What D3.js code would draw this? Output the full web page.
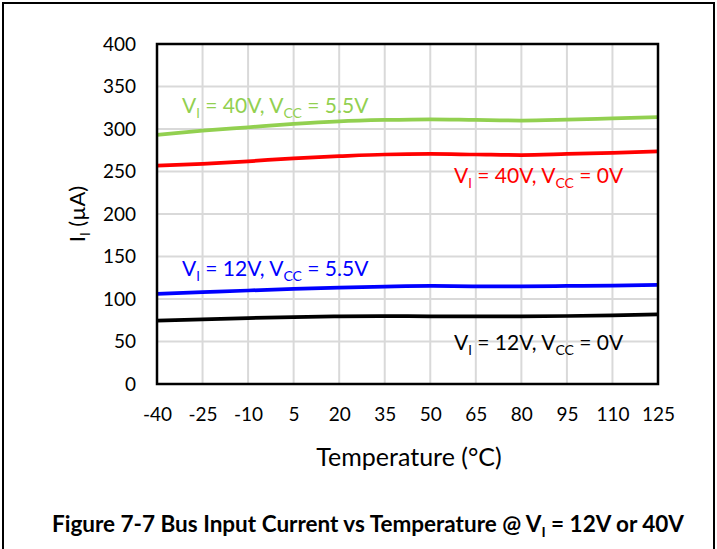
<!DOCTYPE html>
<html><head><meta charset="utf-8">
<script src="https://cdn.jsdelivr.net/npm/d3@7"></script>
<style>body{margin:0;background:#fff}svg{display:block}</style>
</head><body>
<svg id="chart" width="717" height="549"></svg>
<script>
const temps = [-40,-25,-10,5,20,35,50,65,80,95,110,125];
const yTicks = [0,50,100,150,200,250,300,350,400];
const green40_55 = [293,298,302,306,309,310.6,311.4,310.6,310,311,312.5,314];
const red40_0 = [257,259,262,265.5,268,270,270.6,270,269.4,270.6,272,273.7];
const blue12_55 = [106,108,110,111.8,113.3,114.5,115.3,114.9,114.9,115.3,115.7,116.5];
const black12_0 = [74.5,76,77.6,78.8,79.5,80,79.6,79.6,79.6,80,80.8,82];

const series = [
  {vals: green40_55, color: "#92D050", label: ["40V","5.5V"], lx: 182, ly: 113},
  {vals: red40_0, color: "#FF0000", label: ["40V","0V"], lx: 454, ly: 183},
  {vals: blue12_55, color: "#0000FF", label: ["12V","5.5V"], lx: 182, ly: 276},
  {vals: black12_0, color: "#000000", label: ["12V","0V"], lx: 454, ly: 350}
];

const font = "Lato, 'Open Sans', sans-serif";
const svg = d3.select("#chart");
const L = 157, R = 658, T = 44, B = 384;
const x = d3.scaleLinear().domain([-40,125]).range([L,R]);
const y = d3.scaleLinear().domain([0,400]).range([B,T]);

// outer frame
svg.append("rect").attr("x",3).attr("y",3).attr("width",711).attr("height",560)
  .attr("fill","none").attr("stroke","#000").attr("stroke-width",2);

// grid
svg.append("g").selectAll("line").data(temps).join("line")
  .attr("x1",d=>x(d)).attr("x2",d=>x(d)).attr("y1",T).attr("y2",B)
  .attr("stroke","#d9d9d9").attr("stroke-width",2);
svg.append("g").selectAll("line").data(yTicks).join("line")
  .attr("x1",L).attr("x2",R).attr("y1",d=>y(d)).attr("y2",d=>y(d))
  .attr("stroke","#d9d9d9").attr("stroke-width",2);

// axes labels via d3 axes
const yAxis = svg.append("g").attr("transform",`translate(${L},0)`)
  .call(d3.axisLeft(y).tickValues(yTicks).tickSize(0).tickPadding(21));
yAxis.select(".domain").remove();
yAxis.selectAll("text").attr("font-family",font).attr("font-size",19).attr("fill","#000");

const xAxis = svg.append("g").attr("transform",`translate(0,${B})`)
  .call(d3.axisBottom(x).tickValues(temps).tickSize(0).tickPadding(24).tickFormat(d=>String(d)));
xAxis.select(".domain").remove();
xAxis.selectAll("text").attr("font-family",font).attr("font-size",19).attr("fill","#000");

// lines
const line = d3.line().x((d,i)=>x(temps[i])).y(d=>y(d)).curve(d3.curveMonotoneX);
series.forEach(s=>{
  svg.append("path").datum(s.vals).attr("d",line).attr("fill","none")
    .attr("stroke",s.color).attr("stroke-width",3.75).attr("stroke-linecap","butt");
});

// plot border
svg.append("rect").attr("x",L).attr("y",T).attr("width",R-L).attr("height",B-T)
  .attr("fill","none").attr("stroke","#000").attr("stroke-width",2.5);

// series labels
series.forEach(s=>{
  const t = svg.append("text").attr("x",s.lx).attr("y",s.ly)
    .attr("font-family",font).attr("font-size",21).attr("fill",s.color);
  t.append("tspan").text("V");
  t.append("tspan").attr("font-size",13).attr("dy",5).text("I");
  t.append("tspan").attr("dy",-5).text(" = " + s.label[0] + ", V");
  t.append("tspan").attr("font-size",14).attr("dy",5).text("CC");
  t.append("tspan").attr("dy",-5).text(" = " + s.label[1]);
});

// axis titles
svg.append("text").attr("x",409).attr("y",466).attr("text-anchor","middle")
  .attr("font-family",font).attr("font-size",25).text("Temperature (°C)");
const yt = svg.append("text").attr("transform","translate(85,214) rotate(-90)")
  .attr("text-anchor","middle").attr("font-family",font).attr("font-size",22);
yt.append("tspan").text("I");
yt.append("tspan").attr("font-size",13).attr("dy",5).text("I");
yt.append("tspan").attr("dy",-5).text(" (µA)");

// caption
const cap = svg.append("text").attr("x",368).attr("y",532).attr("text-anchor","middle")
  .attr("font-family",font).attr("font-size",22.5).attr("font-weight","bold");
cap.append("tspan").text("Figure 7-7 Bus Input Current vs Temperature @ V");
cap.append("tspan").attr("font-size",14).attr("dy",5).text("I");
cap.append("tspan").attr("dy",-5).text(" = 12V or 40V");
</script>
</body></html>
